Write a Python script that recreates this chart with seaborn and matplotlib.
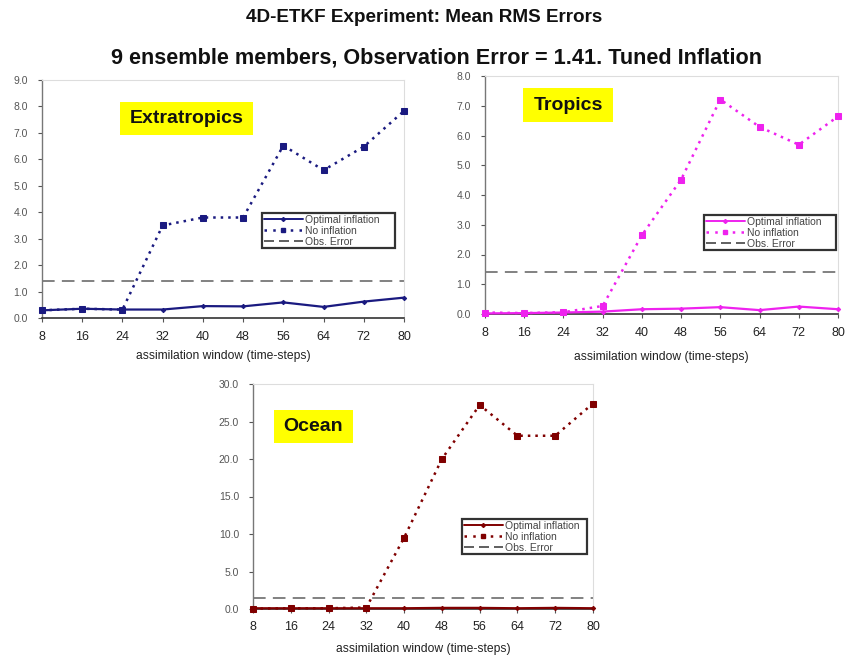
import numpy as np
import pandas as pd
import matplotlib
matplotlib.use("Agg")
import matplotlib.pyplot as plt
import seaborn as sns
from matplotlib.lines import Line2D

sns.set_theme(style="white")
plt.rcParams['font.family'] = ['Liberation Sans', 'DejaVu Sans']

windows = [8, 16, 24, 32, 40, 48, 56, 64, 72, 80]
obs_error = 1.41

extra_opt = [0.29, 0.35, 0.32, 0.32, 0.45, 0.44, 0.59, 0.42, 0.62, 0.77]
extra_noinf = [0.29, 0.35, 0.32, 3.50, 3.80, 3.80, 6.52, 5.59, 6.48, 7.83]

trop_opt = [0.02, 0.03, 0.05, 0.08, 0.16, 0.18, 0.23, 0.13, 0.25, 0.16]
trop_noinf = [0.05, 0.03, 0.06, 0.27, 2.65, 4.52, 7.21, 6.29, 5.69, 6.64]

ocean_opt = [0.10, 0.10, 0.10, 0.10, 0.10, 0.15, 0.15, 0.10, 0.15, 0.10]
ocean_noinf = [0.05, 0.10, 0.10, 0.20, 9.50, 20.0, 27.2, 23.1, 23.1, 27.4]

titles = ["Extratropics", "Tropics", "Ocean"]
colors = ["#1a1a80", "#ee22ee", "#800000"]
ymaxes = [9.0, 8.0, 30.0]
ysteps = [1.0, 1.0, 5.0]

W, H = 848, 658
fig = plt.figure(figsize=(W / 100, H / 100), dpi=100)

def fx(px):
    return px / W

def fy(py):
    return 1 - py / H

# axes boxes in pixel coords: left, top, right, bottom
boxes = [(42, 80, 404, 318), (485, 76, 838, 314), (253, 384, 593, 609)]
label_boxes = [(120, 102, 253, 135), (523, 88, 613, 122), (274, 410, 353, 443)]
legend_boxes = [(262, 176, 395, 213), (704, 177, 836, 215), (462, 483, 587, 519)]
xlabel_y = [356, 357, 649]

data = [(extra_opt, extra_noinf), (trop_opt, trop_noinf), (ocean_opt, ocean_noinf)]

for i in range(3):
    l, t, r, b = boxes[i]
    ax = fig.add_axes([fx(l), fy(b), fx(r - l), fy(t) - fy(b)])
    opt, noinf = data[i]
    df = pd.DataFrame({"window": windows, "opt": opt, "noinf": noinf})
    c = colors[i]
    ax.axhline(obs_error, color="#777777", lw=1.3, dashes=(7, 4), zorder=1)
    sns.lineplot(data=df, x="window", y="noinf", ax=ax, color=c, lw=1.8,
                 linestyle=(0, (1, 2.0)), marker="s", markersize=4.0,
                 markeredgecolor=c, clip_on=False, zorder=3)
    sns.lineplot(data=df, x="window", y="opt", ax=ax, color=c, lw=1.6,
                 marker="D", markersize=2.2, markeredgecolor=c,
                 clip_on=False, zorder=4)
    ax.set_xlim(8, 80)
    ax.set_ylim(0, ymaxes[i])
    yt = np.arange(0, ymaxes[i] + 1e-9, ysteps[i])
    ax.set_yticks(yt)
    ax.set_yticklabels([f"{v:.1f}" for v in yt], fontsize=7.5, color="#555555")
    ax.set_xticks(windows)
    ax.set_xticklabels([str(w) for w in windows], fontsize=9, color="#222222")
    ax.tick_params(axis="y", which="both", left=True, length=3, width=0.8,
                   color="#555555", pad=7)
    ax.tick_params(axis="x", which="both", bottom=True, length=3, width=0.8,
                   color="#555555", pad=6)
    ax.set_xlabel("")
    ax.set_ylabel("")
    for side in ["top", "right"]:
        ax.spines[side].set_color("#dddddd")
        ax.spines[side].set_linewidth(0.8)
    ax.spines["left"].set_color("#777777")
    ax.spines["left"].set_linewidth(1.0)
    ax.spines["bottom"].set_color("#333333")
    ax.spines["bottom"].set_linewidth(1.2)
    ax.grid(False)

    # x axis label
    fig.text(fx((l + r) / 2), fy(xlabel_y[i]), "assimilation window (time-steps)",
             ha="center", va="center", fontsize=8.7, color="#222222")

    # yellow label box
    bl, bt, br, bb = label_boxes[i]
    fig.patches.append(plt.Rectangle((fx(bl), fy(bb)), fx(br - bl), fy(bt) - fy(bb),
                                     transform=fig.transFigure, facecolor="#ffff00",
                                     edgecolor="none", zorder=5))
    fig.text(fx((bl + br) / 2), fy((bt + bb) / 2), titles[i], ha="center",
             va="center", fontsize=14, fontweight="bold", color="#111111", zorder=6)

    # legend
    ll, lt, lr, lb = legend_boxes[i]
    handles = [
        Line2D([], [], color=c, lw=1.4, marker="D", markersize=2),
        Line2D([], [], color=c, lw=1.8, linestyle=(0, (1, 2.5)), marker="s",
               markersize=3.5),
        Line2D([], [], color="#444444", lw=1.2, dashes=(6, 3)),
    ]
    leg = ax.legend(handles, ["Optimal inflation", "No inflation", "Obs. Error"],
                    loc="upper left",
                    bbox_to_anchor=(fx(ll), fy(lt), fx(lr - ll), fy(lb) - fy(lt)),
                    bbox_transform=fig.transFigure, mode="expand",
                    fontsize=7.5, frameon=True, fancybox=False, borderpad=0.15,
                    labelspacing=0.1, handlelength=3.8, handletextpad=0.2,
                    borderaxespad=0)
    leg.get_frame().set_edgecolor("black")
    leg.get_frame().set_linewidth(1.6)
    for txt in leg.get_texts():
        txt.set_color("#444444")

fig.text(fx(424), fy(18), "4D-ETKF Experiment: Mean RMS Errors", ha="center",
         va="center", fontsize=13.6, fontweight="bold", color="#111111")
fig.text(fx(436), fy(58), "9 ensemble members, Observation Error = 1.41. Tuned Inflation",
         ha="center", va="center", fontsize=15.6, fontweight="bold", color="#111111")

fig.savefig("out.png", dpi=100)
